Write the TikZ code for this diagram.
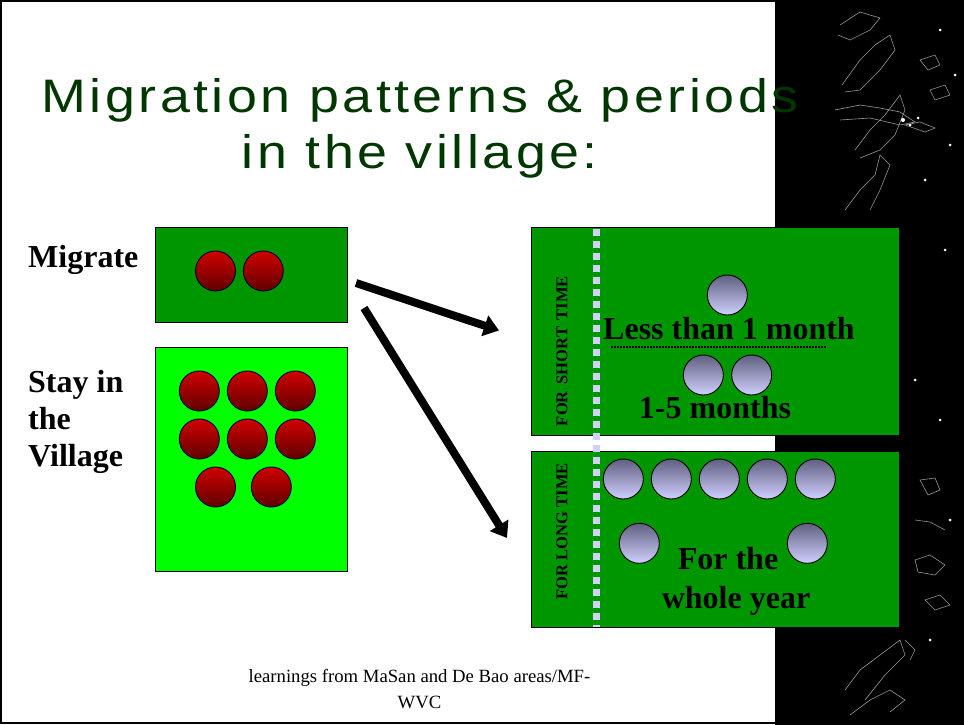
\documentclass[tikz,border=0pt]{standalone}
\usepackage{fontspec}
\setmainfont{Liberation Serif}
\newfontfamily\titlefont{Liberation Sans}[LetterSpace=6.5]
\usetikzlibrary{arrows.meta}
\definecolor{darkbox}{RGB}{0,150,0}
\definecolor{lightbox}{RGB}{0,255,0}
\definecolor{titlegreen}{RGB}{0,55,0}
\definecolor{redtop}{RGB}{208,0,0}
\definecolor{redbot}{RGB}{96,0,0}
\definecolor{lavtop}{RGB}{96,96,128}
\definecolor{lavbot}{RGB}{208,208,255}
\definecolor{dotcol}{RGB}{208,208,248}
\definecolor{squig}{RGB}{150,150,150}
\tikzset{
  panel/.style={draw=black, line width=1pt},
  redball/.style={circle, draw=black, line width=0.9pt, minimum size=40pt, inner sep=0pt, top color=redtop, bottom color=redbot},
  lavball/.style={circle, draw=black, line width=0.9pt, minimum size=40pt, inner sep=0pt, top color=lavtop, bottom color=lavbot},
  lbl/.style={font=\fontsize{32}{37}\selectfont\bfseries, anchor=base, inner sep=0pt},
  sidelbl/.style={font=\fontsize{16.6}{20}\selectfont\bfseries, rotate=90, inner sep=0pt},
  titletxt/.style={font=\titlefont\fontsize{47}{55}\selectfont, text=titlegreen, anchor=base, inner sep=0pt, xscale=1.145},
  bigarrow/.style={line width=8pt, -{Triangle[length=15pt,width=21pt]}},
  deco/.style={draw=squig, line width=0.6pt}
}
\begin{document}
\begin{tikzpicture}[x=1pt,y=-1pt]
\useasboundingbox (0,0) rectangle (964,725);
% background frame
\fill[white] (0,0) rectangle (964,725);
\draw[line width=2pt] (1,1) rectangle (963,723);
% black strip
\fill[black] (775,0) rectangle (964,725);
% decorative squiggles
\draw[deco] (840,25) -- (860,12) -- (880,18) -- (870,30) -- (850,40) -- (838,35);
\draw[deco] (842,85) -- (860,60) -- (875,45) -- (890,35) -- (895,50) -- (880,70) -- (860,90) -- (845,92);
\draw[deco] (835,110) -- (860,105) -- (880,108) -- (900,112) -- (915,122) -- (900,125) -- (870,118) -- (840,120);
\draw[deco] (855,150) -- (870,130) -- (885,115) -- (900,95) -- (905,110) -- (895,135) -- (880,150) -- (860,158);
\draw[deco] (845,210) -- (860,190) -- (875,175) -- (880,155) -- (890,165) -- (880,190) -- (870,210);
\draw[deco] (920,60) -- (935,55) -- (940,65) -- (928,70) -- cycle;
\draw[deco] (930,90) -- (945,85) -- (950,95) -- (935,100) -- cycle;
\draw[deco] (905,125) -- (920,122) -- (935,128) -- (925,132) -- cycle;
\draw[deco] (845,690) -- (860,670) -- (880,655) -- (900,640) -- (905,655) -- (885,675) -- (865,700);
\draw[deco] (850,715) -- (870,700) -- (890,690) -- (905,700) -- (890,712);
\draw[deco] (920,480) -- (935,478) -- (940,490) -- (928,495) -- cycle;
\draw[deco] (915,560) -- (930,555) -- (945,565) -- (935,575) -- (918,572) -- cycle;
\draw[deco] (925,600) -- (940,595) -- (950,605) -- (935,610) -- cycle;
\draw[deco] (915,520) -- (930,522) -- (945,530);
\draw[deco] (905,640) -- (915,650) -- (910,660);
\fill[white] (903,120) circle (2pt) (910,125) circle (1.5pt) (918,118) circle (1.5pt) (925,180) circle (1.5pt) (950,145) circle (1.5pt) (940,30) circle (1.5pt) (955,75) circle (1.5pt) (945,250) circle (1.5pt) (915,380) circle (1.5pt) (940,420) circle (1.5pt) (950,520) circle (1.5pt) (930,640) circle (1.5pt);
% title
\node[titletxt] (t1) at (420,112) {Migration patterns \& periods};
\node[titletxt] (t2) at (420,168) {in the village:};
% left labels
\node[lbl, anchor=base west] (lmig) at (28,267) {Migrate};
\node[lbl, anchor=base west] (lstay1) at (28,392) {Stay in};
\node[lbl, anchor=base west] (lstay2) at (28,429) {the};
\node[lbl, anchor=base west] (lstay3) at (28,466) {Village};
% left boxes
\path[panel, fill=darkbox] (155,227) rectangle (347,322);
\path[panel, fill=lightbox] (155,347) rectangle (347,571);
\node[redball] (m1) at (215.5,271) {};
\node[redball] (m2) at (263.3,271) {};
\node[redball] (s1) at (199.3,391) {};
\node[redball] (s2) at (247.3,391) {};
\node[redball] (s3) at (295.3,391) {};
\node[redball] (s4) at (199.3,439) {};
\node[redball] (s5) at (247.3,439) {};
\node[redball] (s6) at (295.3,439) {};
\node[redball] (s7) at (215.5,487) {};
\node[redball] (s8) at (271.3,487) {};
% right boxes
\path[panel, fill=darkbox] (531,227) rectangle (899,435);
\path[panel, fill=darkbox] (531,451) rectangle (899,627);
\draw[dotcol, line width=7pt, dash pattern=on 6.5pt off 5.5pt] (596,229) -- (596,627);
\node[sidelbl] (short) at (562,351) {FOR\hspace{0.4em}SHORT\hspace{0.4em}TIME};
\node[sidelbl] (long) at (562,531.5) {FOR LONG TIME};
\node[lavball] (a1) at (727.3,295) {};
\node[lbl] (less) at (729,339) {Less than 1 month};
\draw[line width=1.5pt, dash pattern=on 2pt off 1pt] (611,347) -- (826,347);
\node[lavball] (a2) at (703.3,375) {};
\node[lavball] (a3) at (751.7,375) {};
\node[lbl] (months) at (715,418) {1-5 months};
\node[lavball] (b1) at (623.3,479) {};
\node[lavball] (b2) at (671.3,479) {};
\node[lavball] (b3) at (719.3,479) {};
\node[lavball] (b4) at (767.3,479) {};
\node[lavball] (b5) at (815.3,479) {};
\node[lavball] (b6) at (639.3,543.3) {};
\node[lavball] (b7) at (807.3,543.3) {};
\node[lbl] (forthe) at (728,569) {For the};
\node[lbl] (whole) at (736,608) {whole year};
% arrows
\coordinate (s1a) at (356,283);
\coordinate (e1a) at (499,330.5);
\coordinate (s2a) at (364,308);
\coordinate (e2a) at (507,538);
\draw[bigarrow] (s1a) -- (e1a);
\draw[bigarrow] (s2a) -- (e2a);
% footer
\node[font=\fontsize{18.7}{26}\selectfont, anchor=base, inner sep=0pt] (f1) at (419.5,682) {learnings from MaSan and De Bao areas/MF-};
\node[font=\fontsize{18.7}{26}\selectfont, anchor=base, inner sep=0pt] (f2) at (419.5,708) {WVC};
\end{tikzpicture}
\end{document}
